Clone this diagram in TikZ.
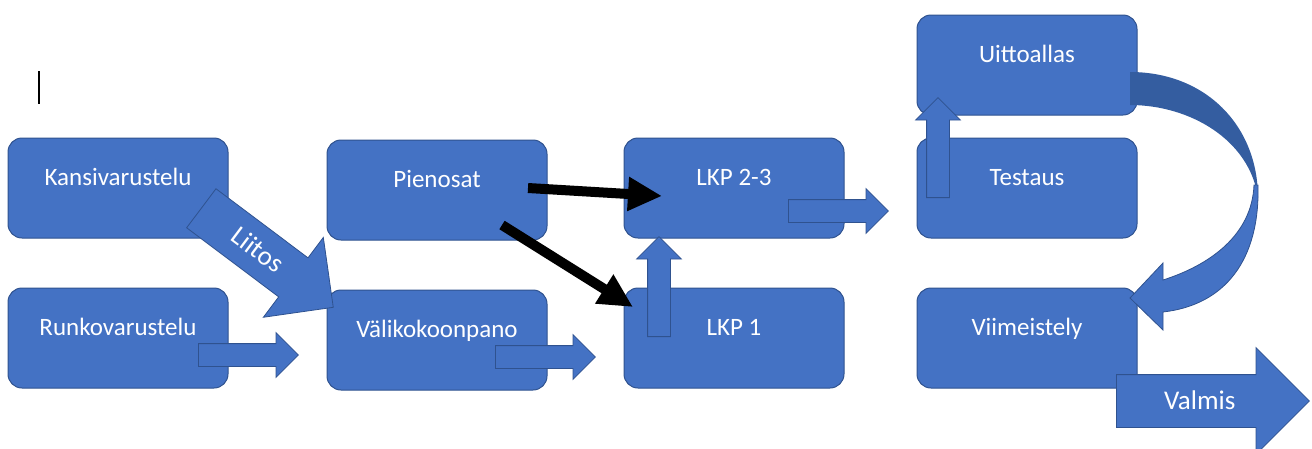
\documentclass[tikz,border=0pt]{standalone}
\usepackage{fontspec}
\setmainfont{Carlito}
\usetikzlibrary{arrows.meta,positioning,calc,shapes.arrows}
\definecolor{boxblue}{RGB}{68,114,196}
\definecolor{boxedge}{RGB}{47,82,143}
\definecolor{backblue}{RGB}{52,93,160}

\tikzset{
  phase/.style={draw=boxedge,line width=1pt,fill=boxblue,rounded corners=14pt,
    minimum width=220pt,minimum height=100pt,text=white,inner sep=0pt,
    font=\fontsize{25}{30}\selectfont,text height=10pt,text depth=16pt},
  blockarrow/.style={single arrow,draw=boxedge,line width=0.8pt,fill=boxblue,
    single arrow tip angle=90,single arrow head indent=0pt,inner xsep=0pt,
    anchor=tail,text=white,font=\fontsize{27}{32}\selectfont},
  smallarrow/.style={blockarrow,minimum height=100pt,inner ysep=11pt,
    single arrow head extend=11pt},
  feed/.style={line width=10pt,-{Triangle[length=34pt,width=32pt]}}
}

\begin{document}
\begin{tikzpicture}[x=1pt,y=-1pt]
\useasboundingbox (0,0) rectangle (1312,448);
\draw[line width=2pt] (39,71) -- (39,104);
% vaiheet
\node[phase] (kansi) at (118,188) {Kansivarustelu};
\node[phase] (runko) at (118,338) {Runkovarustelu};
\node[phase] (pien) at (437,190) {Pienosat};
\node[phase] (vali) at (437,340) {Välikokoonpano};
\node[phase] (lkp23) at (734,188) {LKP 2-3};
\node[phase] (lkp1) at (734,338) {LKP 1};
\node[phase] (uitto) at (1027,65) {Uittoallas};
\node[phase] (test) at (1027,188) {Testaus};
\node[phase] (viim) at (1027,338) {Viimeistely};
% nuolet
\node[smallarrow] (a1) at (198,355) {};
\node[smallarrow] (a2) at (495,357) {};
\node[smallarrow] (a3) at (788,211) {};
\node[smallarrow,rotate=90] (a4) at (659,337) {};
\node[smallarrow,rotate=90] (a5) at (938,198) {};
\node[blockarrow,rotate=-36.9,minimum height=165pt,inner ysep=0pt,
  text height=32pt,text depth=16pt,single arrow head extend=25.5pt] (liitos) at (201,208) {Liitos};
\node[blockarrow,minimum height=193pt,inner ysep=0pt,
  text height=34pt,text depth=18pt,single arrow head extend=27pt] (valmis) at (1116,401) {Valmis};
% pienosat mukaan
\coordinate (p1) at (528,188);
\coordinate (p2) at (502,225);
\coordinate (t1) at (662,196);
\coordinate (t2) at (633,307);
\draw[feed] (p1) -- (t1);
\draw[feed] (p2) -- (t2);
% kaari uittoaltaasta viimeistelyyn
\fill[backblue] (1130,72) .. controls (1205,72) and (1258,125) .. (1258,198)
  .. controls (1250,140) and (1190,105) .. (1130,105) -- cycle;
\draw[boxedge,line width=0.8pt,fill=boxblue] (1163,263) -- (1130,298) -- (1163,330) -- (1163,312)
  .. controls (1225,305) and (1260,260) .. (1258,185) -- (1254,185)
  .. controls (1252,235) and (1210,265) .. (1163,280) -- cycle;
\end{tikzpicture}
\end{document}
